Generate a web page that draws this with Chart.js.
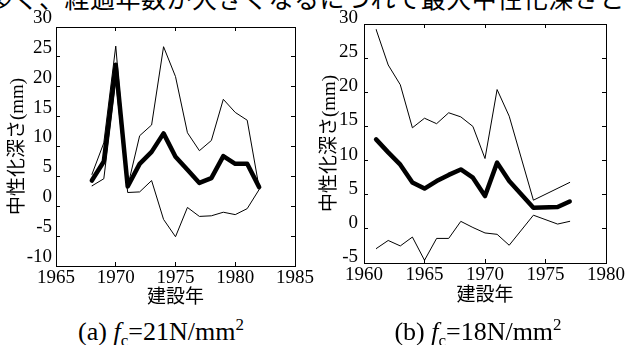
<!DOCTYPE html>
<html>
<head>
<meta charset="utf-8">
<script src="https://cdn.jsdelivr.net/npm/chart.js@4"></script>
<style>
  html, body { margin: 0; padding: 0; background: #fff; }
  body { width: 626px; height: 345px; position: relative; overflow: hidden; }
  canvas { position: absolute; top: 0; }
  .cap { position: absolute; width: 220px; text-align: center; top: 319px; line-height: 26px;
         font-family: 'Liberation Serif', 'Times New Roman', Times, 'DejaVu Serif', serif;
         font-size: 26px; color: #000; white-space: nowrap; }
  .cap sub, .cap sup { font-size: 17px; line-height: 0; }
  .clip { position: absolute; left: -12px; top: -15px; line-height: 25px; white-space: nowrap;
          font-family: 'Noto Sans CJK JP', sans-serif; font-size: 25px; letter-spacing: 0.5px; color: #000; }
</style>
</head>
<body>
<div class="clip">多く、経過年数が大きくなるにつれて最大中性化深さと</div>
<canvas id="chartA" width="320" height="310" style="left:0px"></canvas>
<canvas id="chartB" width="321" height="310" style="left:305px"></canvas>
<div class="cap" style="left:51px">(a) <i>f</i><sub>c</sub>=21N/mm<sup>2</sup></div>
<div class="cap" style="left:368px">(b) <i>f</i><sub>c</sub>=18N/mm<sup>2</sup></div>
<script>
// (a) fc=21N/mm2
const yearsA = [1968, 1969, 1970, 1971, 1972, 1973, 1974, 1975, 1976, 1977, 1978, 1979, 1980, 1981, 1982];
const meanA  = [4.3, 7.5, 23.7, 3.3, 7.1, 9.1, 12.2, 8.3, 6.1, 3.9, 4.7, 8.4, 7.1, 7.1, 3.2];
const upperA = [5.3, 10.6, 26.8, 3.3, 11.8, 13.6, 26.7, 21.7, 12.3, 9.3, 11.0, 17.9, 15.7, 14.4, 3.1];
const lowerA = [3.4, 4.6, 21.0, 2.3, 2.4, 4.3, -2.2, -5.1, -0.2, -1.7, -1.6, -1.0, -1.4, -0.4, 2.8];
const xTicksA = [1965, 1970, 1975, 1980, 1985];
const yTicksA = [-10, -5, 0, 5, 10, 15, 20, 25, 30];

// (b) fc=18N/mm2
const yearsB = [1961, 1962, 1963, 1964, 1965, 1966, 1967, 1968, 1969, 1970, 1971, 1972, 1973, 1974, 1975, 1976, 1977];
const meanB  = [13.1, 11.2, 9.4, 6.8, 5.9, 7.0, 7.9, 8.7, 7.5, 4.8, 9.7, 7.0, null, 3.1, null, 3.2, 4.0];
const upperB = [29.2, 24.0, 21.1, 14.8, 16.2, 15.4, 17.0, 16.4, 15.0, 10.3, 20.4, 16.5, null, 4.2, null, null, 6.8];
const lowerB = [-2.9, -1.7, -2.5, -1.2, -4.6, -1.4, -1.4, 1.1, 0.2, -0.6, -0.8, -2.4, null, 2.0, null, 0.7, 1.1];
const xTicksB = [1960, 1965, 1970, 1975, 1980];
const yTicksB = [-5, 0, 5, 10, 15, 20, 25, 30];

Chart.defaults.font.family = "'Liberation Serif', 'Times New Roman', 'DejaVu Serif', 'Noto Sans CJK JP', serif";
Chart.defaults.color = '#000';

function setTicks(values) {
  return function (scale) {
    scale.ticks = values.map(v => ({ value: v }));
  };
}

function fixSize(size) {
  return function (scale) {
    if (scale.isHorizontal()) scale.height = size; else scale.width = size;
    scale.paddingLeft = 0;
    scale.paddingRight = 0;
    scale.paddingTop = 0;
    scale.paddingBottom = 0;
  };
}

function line(data, width) {
  return {
    data: data,
    borderColor: '#000',
    borderWidth: width,
    borderJoinStyle: 'round',
    borderCapStyle: 'round',
    pointRadius: 0,
    tension: 0,
    spanGaps: true,
    fill: false,
  };
}

function createPanel(id, p) {
  const tickGrid = { drawOnChartArea: false, tickLength: -4, color: '#000', lineWidth: 1 };
  const edge = { display: true, color: '#000', width: 1 };
  const cjk = "'Liberation Serif', 'Times New Roman', 'Noto Sans CJK JP', sans-serif";

  new Chart(document.getElementById(id), {
    type: 'line',
    data: {
      labels: p.years,
      datasets: [line(p.mean, 4.5), line(p.upper, 1), line(p.lower, 1)],
    },
    options: {
      responsive: false,
      animation: false,
      layout: { padding: { left: 0, top: p.padTop, right: p.padRight, bottom: 0 } },
      plugins: { legend: { display: false }, tooltip: { enabled: false } },
      scales: {
        x: {
          type: 'linear',
          position: 'bottom',
          min: p.xTicks[0],
          max: p.xTicks[p.xTicks.length - 1],
          afterBuildTicks: setTicks(p.xTicks),
          afterFit: fixSize(p.xHeight),
          grid: tickGrid,
          border: edge,
          ticks: { font: { size: 19 }, padding: 5, maxRotation: 0, autoSkip: false, callback: v => String(v) },
          title: { display: true, text: '建設年', font: { family: cjk, size: 19, lineHeight: 1 }, padding: { top: 0, bottom: p.xTitlePad } },
        },
        y: {
          type: 'linear',
          position: 'left',
          min: p.yTicks[0],
          max: p.yTicks[p.yTicks.length - 1],
          afterBuildTicks: setTicks(p.yTicks),
          afterFit: fixSize(p.yWidth),
          grid: tickGrid,
          border: edge,
          ticks: { font: { size: 19 }, padding: p.yLabelPad, labelOffset: p.yLabelOffset, autoSkip: false, callback: v => String(v) },
          title: { display: true, text: '中性化深さ(mm)', font: { family: cjk, size: 19, lineHeight: 1 }, padding: { top: p.yTitlePad, bottom: 0 } },
        },
        x2: {
          type: 'linear',
          position: 'top',
          min: p.xTicks[0],
          max: p.xTicks[p.xTicks.length - 1],
          afterBuildTicks: setTicks(p.xTicks),
          afterFit: fixSize(0),
          grid: tickGrid,
          border: edge,
          ticks: { display: false },
        },
        y2: {
          type: 'linear',
          position: 'right',
          min: p.yTicks[0],
          max: p.yTicks[p.yTicks.length - 1],
          afterBuildTicks: setTicks(p.yTicks),
          afterFit: fixSize(0),
          grid: tickGrid,
          border: edge,
          ticks: { display: false },
        },
      },
    },
  });
}

createPanel('chartA', {
  years: yearsA, mean: meanA, upper: upperA, lower: lowerA,
  xTicks: xTicksA, yTicks: yTicksA,
  padTop: 27, padRight: 25, yWidth: 56, xHeight: 44,
  yLabelPad: 8, yLabelOffset: -9, yTitlePad: 8.5, xTitlePad: 2.5,
});

createPanel('chartB', {
  years: yearsB, mean: meanB, upper: upperB, lower: lowerB,
  xTicks: xTicksB, yTicks: yTicksB,
  padTop: 24, padRight: 20, yWidth: 59, xHeight: 47,
  yLabelPad: 10, yLabelOffset: -6, yTitlePad: 15.5, xTitlePad: 4.5,
});
</script>
</body>
</html>
